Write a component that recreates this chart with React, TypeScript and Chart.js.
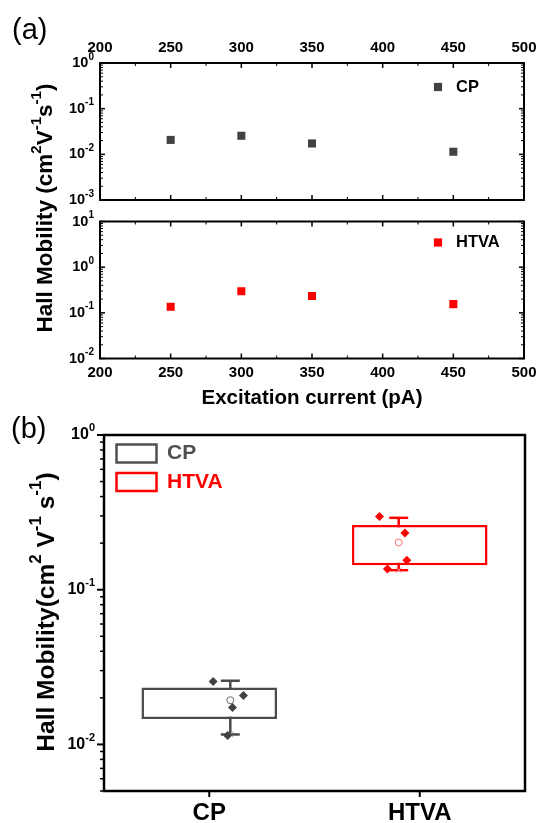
import React, { useEffect, useRef } from 'react';
import { Chart, registerables } from 'chart.js';

Chart.register(...registerables);

// ---------------- data ----------------
const currents = [250, 300, 350, 450];
const cpMobility = [0.0207, 0.0255, 0.0173, 0.0114];
const htvaMobility = [0.136, 0.297, 0.233, 0.155];
const currentTicks = [200, 250, 300, 350, 400, 450, 500];
const topPanelExponents = [0, -1, -2, -3];
const bottomPanelExponents = [1, 0, -1, -2];
const boxPanelExponents = [0, -1, -2];
const groups = ['CP', 'HTVA'];
const boxLower = [0.0146, 0.144];
const boxUpper = [0.0233, 0.2615];
const whiskerLow = [0.0116, 0.1337];
const whiskerHigh = [0.0258, 0.2915];
const groupMeans = [0.0193, 0.202];
const cpJitter = [0.078, -0.102, 0.013, -0.016];
const htvaJitter = [-0.067, -0.114, 0.037, 0.048];

// ---------------- styles ----------------
const W = 539;
const H = 823;
const FONT = '"Liberation Sans", Arial, Helvetica, sans-serif';
const CP_COLOR = '#424242';
const CP_BOX = '#4a4a4a';
const RED = '#ff0000';

type Part = { t: string; sup?: boolean };

function drawRich(
  ctx: CanvasRenderingContext2D,
  parts: Part[],
  x: number,
  y: number,
  size: number,
  align: 'left' | 'right' | 'center',
  color: string,
  weight = 'bold'
) {
  const supSize = Math.round(size * 0.68);
  let w = 0;
  const widths: number[] = [];
  parts.forEach((p) => {
    ctx.font = `${weight} ${p.sup ? supSize : size}px ${FONT}`;
    const pw = ctx.measureText(p.t).width;
    widths.push(pw);
    w += pw;
  });
  let cx = align === 'left' ? x : align === 'right' ? x - w : x - w / 2;
  ctx.fillStyle = color;
  ctx.textBaseline = 'middle';
  ctx.textAlign = 'left';
  parts.forEach((p, i) => {
    ctx.font = `${weight} ${p.sup ? supSize : size}px ${FONT}`;
    ctx.fillText(p.t, cx, p.sup ? y - size * 0.42 : y);
    cx += widths[i];
  });
}

const pow10 = (e: number): Part[] => [{ t: '10' }, { t: String(e), sup: true }];

function logTicks(min: number, max: number) {
  const out: { v: number; major: boolean }[] = [];
  for (let e = Math.floor(Math.log10(min)); e <= Math.ceil(Math.log10(max)); e++) {
    for (let m = 1; m <= 9; m++) {
      const v = m * Math.pow(10, e);
      if (v >= min * 0.999 && v <= max * 1.001) out.push({ v, major: m === 1 });
    }
  }
  return out;
}

function seg(ctx: CanvasRenderingContext2D, x1: number, y1: number, x2: number, y2: number) {
  ctx.beginPath();
  ctx.moveTo(x1, y1);
  ctx.lineTo(x2, y2);
  ctx.stroke();
}

type PanelAOpts = {
  labelsTop: boolean;
  exps: number[];
  legend: string;
  legendColor: string;
  legendDy: number;
  extra?: (ctx: CanvasRenderingContext2D, chart: any) => void;
};

function panelAPlugin(o: PanelAOpts) {
  return {
    id: 'panelA',
    afterDraw(chart: any) {
      const { ctx, chartArea: a, scales } = chart;
      const xs = scales.x;
      const ys = scales.y;
      ctx.save();
      ctx.strokeStyle = '#000';
      for (let v = xs.min; v <= xs.max + 0.01; v += 25) {
        const px = xs.getPixelForValue(v);
        const major = Math.round(v) % 50 === 0;
        const len = major ? 5 : 3;
        ctx.lineWidth = major ? 1.5 : 1;
        seg(ctx, px, a.top, px, a.top + len);
        seg(ctx, px, a.bottom, px, a.bottom - len);
      }
      logTicks(ys.min, ys.max).forEach(({ v, major }) => {
        const py = ys.getPixelForValue(v);
        const len = major ? 5 : 3;
        ctx.lineWidth = major ? 1.5 : 1;
        seg(ctx, a.left, py, a.left + len, py);
        seg(ctx, a.right, py, a.right - len, py);
      });
      ctx.lineWidth = 2;
      ctx.strokeRect(a.left, a.top, a.right - a.left, a.bottom - a.top);
      currentTicks.forEach((v) => {
        drawRich(ctx, [{ t: String(v) }], xs.getPixelForValue(v), o.labelsTop ? a.top - 15 : a.bottom + 14, 15, 'center', '#000');
      });
      o.exps.forEach((e) => {
        drawRich(ctx, pow10(e), 94, ys.getPixelForValue(Math.pow(10, e)), 14.5, 'right', '#000');
      });
      // legend
      const lx = a.right - 86;
      const ly = a.top + o.legendDy;
      ctx.fillStyle = o.legendColor;
      ctx.fillRect(lx - 4.1, ly - 4.1, 8.2, 8.2);
      drawRich(ctx, [{ t: o.legend }], lx + 18, ly, 16.5, 'left', '#000');
      if (o.extra) o.extra(ctx, chart);
      ctx.restore();
    },
  };
}

function panelAConfig(values: number[], color: string, yMin: number, yMax: number, area: { l: number; t: number; r: number; b: number }, plugin: any) {
  return {
    type: 'scatter' as const,
    data: {
      datasets: [
        {
          data: currents.map((x, i) => ({ x, y: values[i] })),
          pointStyle: 'rect',
          pointRadius: 5.7,
          backgroundColor: color,
          borderColor: color,
          borderWidth: 0,
        },
      ],
    },
    options: {
      animation: false as const,
      responsive: false,
      devicePixelRatio: 1,
      events: [] as any[],
      layout: { padding: { left: area.l, top: area.t, right: W - area.r, bottom: H - area.b } },
      plugins: { legend: { display: false }, tooltip: { enabled: false } },
      scales: {
        x: { type: 'linear' as const, min: 200, max: 500, display: false },
        y: { type: 'logarithmic' as const, min: yMin, max: yMax, display: false },
      },
    },
    plugins: [plugin],
  };
}

export default function App() {
  const r1 = useRef<HTMLCanvasElement>(null);
  const r2 = useRef<HTMLCanvasElement>(null);
  const r3 = useRef<HTMLCanvasElement>(null);

  useEffect(() => {
    const charts: Chart[] = [];

    // ---- panel (a), upper ----
    charts.push(
      new Chart(
        r1.current as HTMLCanvasElement,
        panelAConfig(
          cpMobility,
          CP_COLOR,
          0.001,
          1,
          { l: 100, t: 63, r: 524, b: 200 },
          panelAPlugin({
            labelsTop: true,
            exps: topPanelExponents,
            legend: 'CP',
            legendColor: CP_COLOR,
            legendDy: 24,
            extra: (ctx) => {
              drawRich(ctx, [{ t: '(a)' }], 12, 31, 29, 'left', '#000', 'normal');
              ctx.save();
              ctx.translate(46, 208);
              ctx.rotate(-Math.PI / 2);
              drawRich(
                ctx,
                [{ t: 'Hall Mobility (cm' }, { t: '2', sup: true }, { t: 'V' }, { t: '-1', sup: true }, { t: 's' }, { t: '-1', sup: true }, { t: ')' }],
                0,
                0,
                22.5,
                'center',
                '#000'
              );
              ctx.restore();
            },
          })
        ) as any
      )
    );

    // ---- panel (a), lower ----
    charts.push(
      new Chart(
        r2.current as HTMLCanvasElement,
        panelAConfig(
          htvaMobility,
          RED,
          0.01,
          10,
          { l: 100, t: 221.5, r: 524, b: 358.5 },
          panelAPlugin({
            labelsTop: false,
            exps: bottomPanelExponents,
            legend: 'HTVA',
            legendColor: RED,
            legendDy: 21,
            extra: (ctx, chart) => {
              const a = chart.chartArea;
              drawRich(ctx, [{ t: 'Excitation current (pA)' }], (a.left + a.right) / 2, 398, 20.5, 'center', '#000');
            },
          })
        ) as any
      )
    );

    // ---- panel (b) box chart ----
    const groupColors = [CP_BOX, RED];
    const diamondColors = [CP_COLOR, RED];
    const panelB = {
      id: 'panelB',
      afterDraw(chart: any) {
        const { ctx, chartArea: a, scales } = chart;
        const ys = scales.y;
        const xs = scales.x;
        ctx.save();
        ctx.strokeStyle = '#000';
        logTicks(ys.min, ys.max).forEach(({ v, major }) => {
          const py = ys.getPixelForValue(v);
          ctx.lineWidth = major ? 2 : 1.5;
          seg(ctx, a.left, py, a.left - (major ? 7 : 4), py);
        });
        groups.forEach((_, i) => {
          const px = xs.getPixelForValue(i);
          ctx.lineWidth = 2;
          seg(ctx, px, a.bottom, px, a.bottom + 6);
        });
        ctx.lineWidth = 2.5;
        ctx.strokeRect(a.left, a.top, a.right - a.left, a.bottom - a.top);
        boxPanelExponents.forEach((e) => {
          drawRich(ctx, pow10(e), 95, ys.getPixelForValue(Math.pow(10, e)), 16, 'right', '#000');
        });
        groups.forEach((g, i) => {
          drawRich(ctx, [{ t: g }], xs.getPixelForValue(i), 813, 24, 'center', '#000');
        });
        // legend
        const legendColors = ['#505050', RED];
        groups.forEach((g, i) => {
          const y = a.top + 18.5 + i * 28.5;
          ctx.strokeStyle = legendColors[i];
          ctx.lineWidth = 2.5;
          ctx.strokeRect(a.left + 12.5, y - 9, 40, 18);
          drawRich(ctx, [{ t: g }], a.left + 63, y, 21, 'left', legendColors[i]);
        });
        drawRich(ctx, [{ t: '(b)' }], 11, 430, 29, 'left', '#000', 'normal');
        ctx.save();
        ctx.translate(47, 612);
        ctx.rotate(-Math.PI / 2);
        drawRich(
          ctx,
          [{ t: 'Hall Mobility(cm' }, { t: '2', sup: true }, { t: ' V' }, { t: '-1', sup: true }, { t: ' s' }, { t: '-1', sup: true }, { t: ')' }],
          0,
          0,
          24.5,
          'center',
          '#000'
        );
        ctx.restore();
        ctx.restore();
      },
    };

    const whiskerDatasets = groups.map((_, i) => ({
      type: 'line' as const,
      xAxisID: 'xj',
      data: [
        { x: i, y: whiskerLow[i] },
        { x: i, y: whiskerHigh[i] },
      ],
      borderColor: groupColors[i],
      borderWidth: 2.5,
      pointRadius: 0,
      order: 6,
    }));

    charts.push(
      new Chart(r3.current as HTMLCanvasElement, {
        type: 'bar',
        data: {
          labels: groups,
          datasets: [
            ...whiskerDatasets,
            {
              type: 'bar' as const,
              xAxisID: 'x',
              data: groups.map((_, i) => [boxLower[i], boxUpper[i]]),
              backgroundColor: '#ffffff',
              borderColor: groupColors,
              borderWidth: 2.5,
              borderSkipped: false,
              grouped: false,
              barPercentage: 0.644,
              categoryPercentage: 1,
              order: 5,
            },
            {
              type: 'scatter' as const,
              xAxisID: 'xj',
              data: [...groups.map((_, i) => ({ x: i, y: whiskerLow[i] })), ...groups.map((_, i) => ({ x: i, y: whiskerHigh[i] }))],
              pointStyle: 'line',
              pointRadius: 9.5,
              borderWidth: 2.5,
              borderColor: [...groupColors, ...groupColors],
              order: 4,
            },
            {
              type: 'scatter' as const,
              xAxisID: 'xj',
              data: groups.map((_, i) => ({ x: i, y: whiskerLow[i] })),
              pointStyle: 'crossRot',
              pointRadius: 4,
              borderWidth: 1,
              borderColor: ['#9a9a9a', '#ff9090'],
              order: 3,
            },
            {
              type: 'scatter' as const,
              xAxisID: 'xj',
              data: groups.map((_, i) => ({ x: i, y: groupMeans[i] })),
              pointStyle: 'circle',
              pointRadius: 3.5,
              borderWidth: 1,
              backgroundColor: '#ffffff',
              borderColor: ['#6a6a6a', '#ff7070'],
              order: 2,
            },
            {
              type: 'scatter' as const,
              xAxisID: 'xj',
              data: cpMobility.map((y, i) => ({ x: 0 + cpJitter[i], y })),
              pointStyle: 'rectRot',
              pointRadius: 4.5,
              borderWidth: 0,
              backgroundColor: diamondColors[0],
              borderColor: diamondColors[0],
              order: 1,
            },
            {
              type: 'scatter' as const,
              xAxisID: 'xj',
              data: htvaMobility.map((y, i) => ({ x: 1 + htvaJitter[i], y })),
              pointStyle: 'rectRot',
              pointRadius: 4.5,
              borderWidth: 0,
              backgroundColor: diamondColors[1],
              borderColor: diamondColors[1],
              order: 0,
            },
          ] as any,
        },
        options: {
          animation: false,
          responsive: false,
          devicePixelRatio: 1,
          events: [],
          layout: { padding: { left: 104, top: 435, right: W - 525, bottom: H - 791 } },
          plugins: { legend: { display: false }, tooltip: { enabled: false } },
          scales: {
            x: { type: 'category', offset: true, display: false },
            xj: { type: 'linear', min: -0.5, max: 1.5, display: false, position: 'bottom' },
            y: { type: 'logarithmic', min: 0.005, max: 1, display: false },
          },
        } as any,
        plugins: [panelB],
      })
    );

    return () => charts.forEach((c) => c.destroy());
  }, []);

  const cs: React.CSSProperties = { position: 'absolute', left: 0, top: 0, width: W, height: H };
  return (
    <div style={{ position: 'absolute', left: 0, top: 0, width: W, height: H, background: '#fff' }}>
      <canvas ref={r1} width={W} height={H} style={cs} />
      <canvas ref={r2} width={W} height={H} style={cs} />
      <canvas ref={r3} width={W} height={H} style={cs} />
    </div>
  );
}
